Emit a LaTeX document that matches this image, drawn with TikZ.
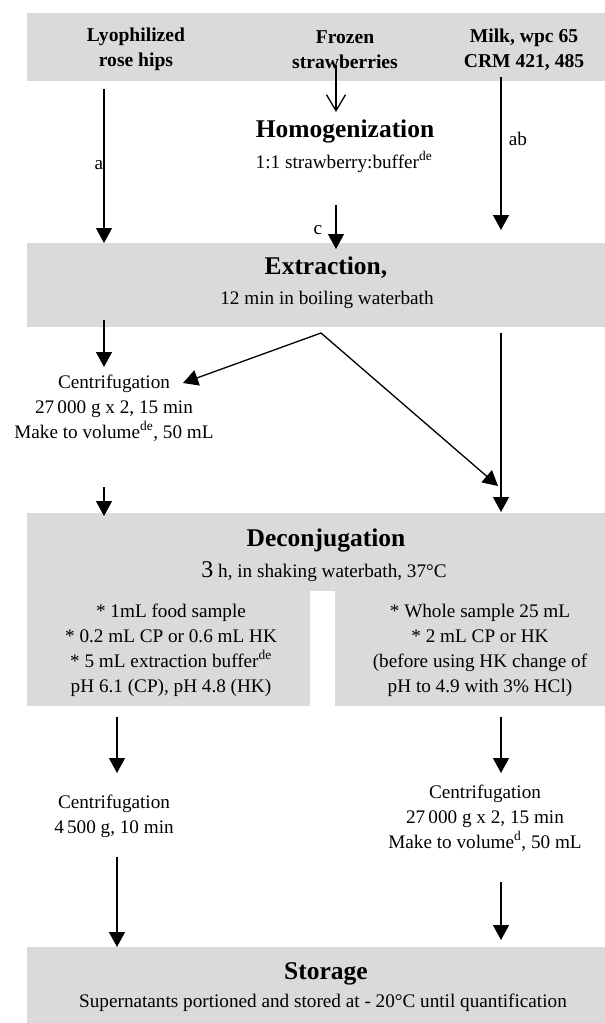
\documentclass[tikz,border=0pt]{standalone}
\usepackage{fontspec}
\setmainfont{Liberation Serif}
\usetikzlibrary{arrows.meta}
\definecolor{bandgray}{RGB}{218,218,218}
\begin{document}
\begin{tikzpicture}[x=1pt,y=-1pt,
  band/.style={fill=bandgray, draw=none, inner sep=0pt, outer sep=0pt, anchor=north west},
  reg/.style={font=\fontsize{19.2pt}{25pt}\selectfont, align=center, inner sep=0pt},
  hdr/.style={font=\bfseries\fontsize{19.6pt}{25pt}\selectfont, align=center, inner sep=0pt},
  ttl/.style={font=\bfseries\fontsize{25.5pt}{30pt}\selectfont, inner sep=0pt},
  lbl/.style={font=\fontsize{19.2pt}{25pt}\selectfont, inner sep=0pt},
  arr/.style={line width=1.3pt, -{Triangle[length=15pt,width=16pt]}},
  openarr/.style={line width=1.3pt, -{Straight Barb[length=16pt,width=19pt,line width=1.3pt]}},
]
\useasboundingbox (0,0) rectangle (605,1023);

% bands
\node[band, minimum width=578pt, minimum height=68pt] (topband) at (27,13) {};
\node[band, minimum width=578pt, minimum height=84pt] (extband) at (27,243) {};
\node[band, minimum width=578pt, minimum height=78pt] (decband) at (27,513) {};
\node[band, minimum width=283pt, minimum height=116pt] (decleft) at (27,590) {};
\node[band, minimum width=270pt, minimum height=116pt] (decright) at (335,590) {};
\node[band, minimum width=578pt, minimum height=76pt] (storband) at (27,947) {};

% header texts
\node[hdr] (lyo) at (136,49.5) {Lyophilized\\rose hips};
\node[hdr] (froz) at (345,49.5) {Frozen\\strawberries};
\node[hdr] (milk) at (524,49.5) {Milk, wpc 65\\CRM 421, 485};

% homogenization
\node[ttl] (homog) at (345,131) {Homogenization};
\node[reg] (homogsub) at (344,162) {1:1 strawberry:buffer\textsuperscript{de}};

% extraction
\node[ttl] (extr) at (326,268) {Extraction,};
\node[reg] (extrsub) at (327,300) {12 min in boiling waterbath};

% centrifugation 1
\node[reg] (cent1) at (114,408) {Centrifugation\\27\,000 g x 2, 15 min\\Make to volume\textsuperscript{de}, 50 mL};

% deconjugation
\node[ttl] (decon) at (326,540) {Deconjugation};
\node[reg] (deconsub) at (324,572) {{\fontsize{24pt}{25pt}\selectfont 3} h, in shaking waterbath, 37°C};
\node[reg] (lefttext) at (171,650) {* 1mL food sample\\* 0.2 mL CP or 0.6 mL HK\\* 5 mL extraction buffer\textsuperscript{de}\\pH 6.1 (CP), pH 4.8 (HK)};
\node[reg] (righttext) at (480,650) {* Whole sample 25 mL\\* 2 mL CP or HK\\(before using HK change of\\pH to 4.9 with 3\% HCl)};

% centrifugation 2 and 3
\node[reg] (cent2) at (114,816) {Centrifugation\\4\,500 g, 10 min};
\node[reg] (cent3) at (485,818) {Centrifugation\\27\,000 g x 2, 15 min\\Make to volume\textsuperscript{d}, 50 mL};

% storage
\node[ttl] (stor) at (326,974) {Storage};
\node[reg] (storsub) at (323,1003) {Supernatants portioned and stored at - 20°C until quantification};

% labels
\node[lbl] (la) at (99,165) {a};
\node[lbl] (lab) at (518,139) {ab};
\node[lbl] (lc) at (318,230) {c};

% arrow end points
\coordinate (a1s) at (104,89);   \coordinate (a1e) at (104,243);
\coordinate (a2s) at (336,65);   \coordinate (a2e) at (336,112);
\coordinate (a3s) at (501,77);   \coordinate (a3e) at (501,230);
\coordinate (a4s) at (336,205);  \coordinate (a4e) at (336,249);
\coordinate (a5s) at (104,320);  \coordinate (a5e) at (104,367);
\coordinate (peak) at (321,333);
\coordinate (dl) at (183,383);   \coordinate (dr) at (498,486);
\coordinate (a7s) at (501,333);  \coordinate (a7e) at (501,512);
\coordinate (a8s) at (104,487);  \coordinate (a8e) at (104,516);
\coordinate (a9s) at (117,717);  \coordinate (a9e) at (117,773);
\coordinate (a10s) at (501,717); \coordinate (a10e) at (501,773);
\coordinate (a11s) at (117,857); \coordinate (a11e) at (117,947);
\coordinate (a12s) at (501,882); \coordinate (a12e) at (501,940);

\draw[arr] (a1s) -- (a1e);
\draw[openarr] (a2s) -- (a2e);
\draw[arr] (a3s) -- (a3e);
\draw[arr] (a4s) -- (a4e);
\draw[arr] (a5s) -- (a5e);
\draw[line width=1.3pt, {Triangle[length=15pt,width=16pt]}-{Triangle[length=15pt,width=16pt]}, line join=miter] (dl) -- (peak) -- (dr);
\draw[arr] (a7s) -- (a7e);
\draw[arr] (a8s) -- (a8e);
\draw[arr] (a9s) -- (a9e);
\draw[arr] (a10s) -- (a10e);
\draw[arr] (a11s) -- (a11e);
\draw[arr] (a12s) -- (a12e);
\end{tikzpicture}
\end{document}
